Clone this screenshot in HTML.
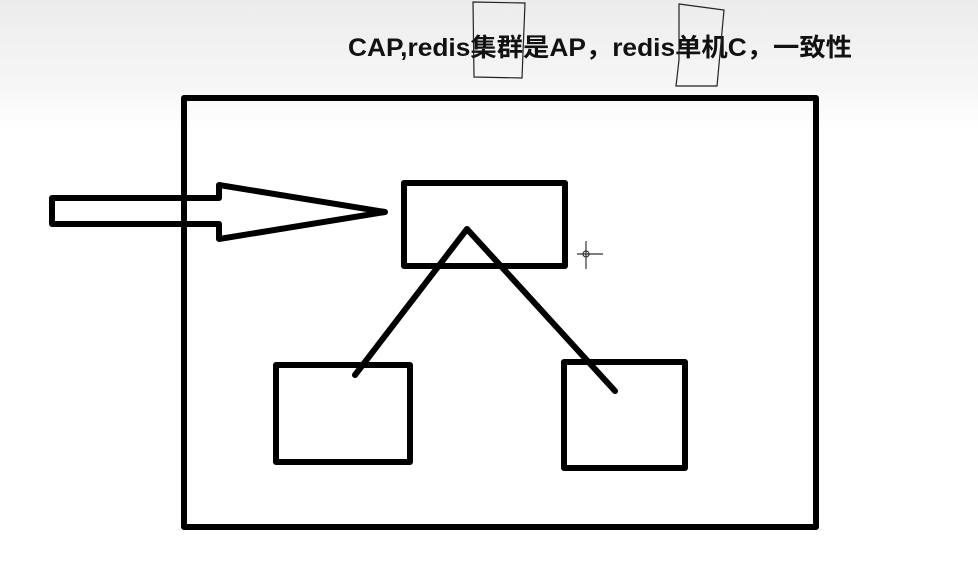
<!DOCTYPE html>
<html><head><meta charset="utf-8"><style>
body{margin:0;width:978px;height:568px;overflow:hidden;background:linear-gradient(#ececec 0px,#f7f7f7 90px,#fff 130px,#fff 100%);}
svg{position:absolute;left:0;top:0}
</style></head><body>
<svg width="978" height="568" xmlns="http://www.w3.org/2000/svg">
<text x="348" y="56" textLength="504" lengthAdjust="spacingAndGlyphs" font-family="Liberation Sans, Noto Sans CJK SC, sans-serif" font-size="25" font-weight="bold" fill="#111">CAP,redis集群是AP，redis单机C，一致性</text>
<path d="M473 2 L525 3 L522 78 L474 77 Z" fill="none" stroke="#222" stroke-width="1.2"/>
<path d="M679 4 L724 10 L717 86 L676 86 L679 60 Z" fill="none" stroke="#222" stroke-width="1.2"/>
<g fill="none" stroke="#000" stroke-width="6" stroke-linejoin="round" stroke-linecap="round">
<path d="M52 198 L219 198 L219 185 L385 212 L219 239 L219 224 L52 224 Z"/>
<rect x="184" y="98" width="632" height="429"/>
<rect x="404" y="183" width="161" height="83"/>
<path d="M355 375 L467 229 L615 391"/>
<rect x="276" y="365" width="134" height="97"/>
<rect x="564" y="362" width="121" height="106"/>
</g>
<g stroke="#333" stroke-width="1.2" fill="none"><line x1="577" y1="254" x2="603" y2="254"/><line x1="586" y1="241" x2="586" y2="269"/><circle cx="586" cy="254" r="3"/></g>
</svg>
</body></html>
